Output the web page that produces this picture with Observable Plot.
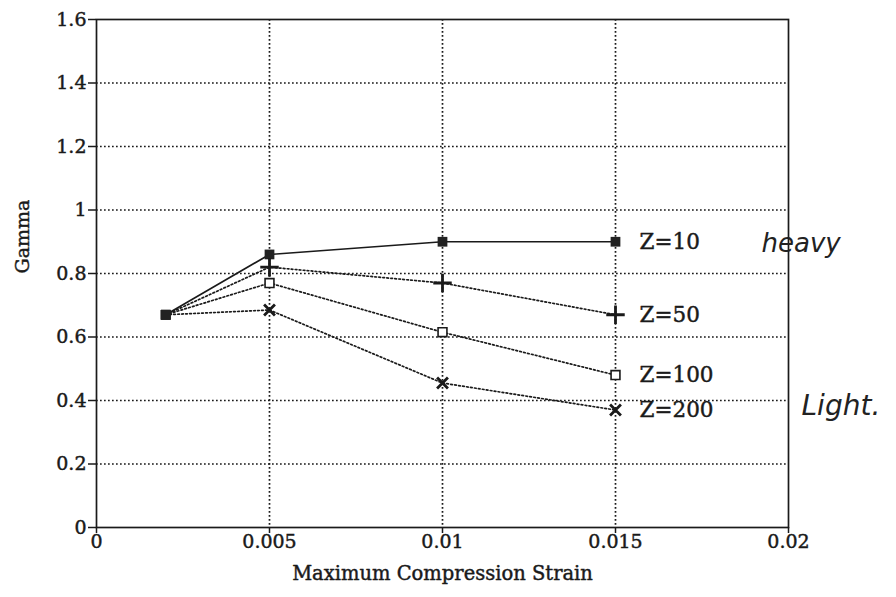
<!DOCTYPE html>
<html><head><meta charset="utf-8">
<script src="https://cdn.jsdelivr.net/npm/d3@7"></script>
<script src="https://cdn.jsdelivr.net/npm/@observablehq/plot@0.6"></script>
<style>
body{margin:0;background:#fff}
g[aria-label="x-axis tick label"] text, g[aria-label="y-axis tick label"] text{stroke:#1a1a1a;stroke-width:0.45px}
</style>
</head><body><div id="chart"></div>
<script>
const strains = [0.002, 0.005, 0.01, 0.015];
const seriesNames = ["Z=10", "Z=50", "Z=100", "Z=200"];
const gammaZ10 = [0.67, 0.86, 0.90, 0.90];
const gammaZ50 = [0.67, 0.82, 0.77, 0.67];
const gammaZ100 = [0.67, 0.77, 0.615, 0.48];
const gammaZ200 = [0.67, 0.685, 0.455, 0.37];
const yTicks = [0, 0.2, 0.4, 0.6, 0.8, 1, 1.2, 1.4, 1.6];
const xTicks = [0, 0.005, 0.01, 0.015, 0.02];
const xTitle = "Maximum Compression Strain";
const yTitle = "Gamma";
const notes = [{label: "heavy", series: "Z=10"}, {label: "Light.", series: "Z=200"}];

const allSeries = [gammaZ10, gammaZ50, gammaZ100, gammaZ200];
const data = [];
seriesNames.forEach((s, i) => strains.forEach((x, j) => data.push({series: s, x, y: allSeries[i][j]})));
const lastPts = seriesNames.map((s, i) => ({series: s, x: strains[strains.length-1], y: allSeries[i][strains.length-1]}));
const noteRows = notes.map(n => ({...n, ...lastPts.find(p => p.series === n.series), series: n.series}));
const fmt = d => String(+d.toFixed(4));

const serif = "'DejaVu Serif', 'Liberation Serif', serif";
const ink = "#1a1a1a";
const heavyText = {fill: ink, stroke: ink, strokeWidth: 0.45};
const plot = Plot.plot({
  width: 896, height: 597,
  marginLeft: 96, marginRight: 108, marginTop: 19, marginBottom: 70,
  style: {fontFamily: serif, color: ink, background: "#fff"},
  x: {domain: [0, 0.02]},
  y: {domain: [0, 1.6]},
  marks: [
    Plot.gridY(yTicks.slice(1, -1), {stroke: ink, strokeOpacity: 1, strokeWidth: 1.7, strokeDasharray: "1.7,2.3"}),
    Plot.gridX(xTicks.slice(1, -1), {stroke: ink, strokeOpacity: 1, strokeWidth: 1.7, strokeDasharray: "1.7,2.3"}),
    Plot.frame({stroke: ink, strokeWidth: 1.7}),
    Plot.axisY(yTicks, {tickSize: 8, tickPadding: 2, tickFormat: fmt, fontSize: 19, label: null, strokeWidth: 1.5}),
    Plot.axisX(xTicks, {tickSize: 6, tickPadding: 1, tickFormat: fmt, fontSize: 19, label: null, strokeWidth: 1.5}),
    Plot.text([xTitle], {frameAnchor: "bottom", dy: 52, text: d => d, fontSize: 19.5, ...heavyText}),
    Plot.text([yTitle], {frameAnchor: "left", dx: -74, rotate: -90, text: d => d, fontSize: 19, ...heavyText}),
    Plot.line(data.filter(d => d.series !== "Z=10"), {x: "x", y: "y", z: "series", stroke: ink, strokeWidth: 1.7, strokeDasharray: "1.7,2.3"}),
    Plot.line(data.filter(d => d.series === "Z=10"), {x: "x", y: "y", stroke: ink, strokeWidth: 1.6}),
    Plot.dot(data.filter(d => d.series === "Z=10" || d.x === strains[0]), {x: "x", y: "y", symbol: "square", fill: "#222", r: 5.5}),
    Plot.dot(data.filter(d => d.series === "Z=50" && d.x !== strains[0]), {x: "x", y: "y", symbol: "plus", stroke: ink, strokeWidth: 2.8, r: 6}),
    Plot.dot(data.filter(d => d.series === "Z=100" && d.x !== strains[0]), {x: "x", y: "y", symbol: "square", stroke: ink, fill: "#fff", strokeWidth: 1.6, r: 5}),
    Plot.dot(data.filter(d => d.series === "Z=200" && d.x !== strains[0]), {x: "x", y: "y", symbol: "times", stroke: ink, strokeWidth: 2.8, r: 5}),
    Plot.text(lastPts, {x: "x", y: "y", text: "series", textAnchor: "start", dx: 24, fontSize: 21.5, ...heavyText}),
    Plot.text(noteRows.filter(d => d.series === "Z=10"), {x: "x", y: "y", text: "label", textAnchor: "start", dx: 146, dy: 2, fontSize: 26, fontStyle: "italic", fontFamily: "'DejaVu Sans', sans-serif", fill: "#222"}),
    Plot.text(noteRows.filter(d => d.series === "Z=200"), {x: "x", y: "y", text: "label", textAnchor: "start", dx: 186, dy: -4, fontSize: 28, fontStyle: "italic", fontFamily: "'DejaVu Sans', sans-serif", fill: "#222"})
  ]
});
document.getElementById("chart").appendChild(plot);
</script>
</body></html>
